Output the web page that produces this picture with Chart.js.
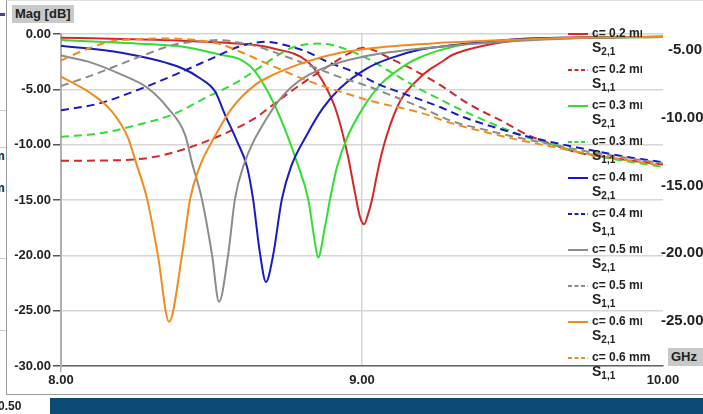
<!DOCTYPE html>
<html>
<head>
<meta charset="utf-8">
<script src="https://cdn.jsdelivr.net/npm/chart.js@4/dist/chart.umd.min.js"></script>
<style>
  body { margin: 0; width: 703px; height: 414px; overflow: hidden; position: relative; background: #fff;
         font-family: 'Liberation Sans', Arial, sans-serif; color: #222; }
  #frame { position: absolute; left: 6px; top: 0; width: 697px; height: 395px;
           border-left: 1px solid #9a9a9a; border-bottom: 1px solid #9a9a9a; border-top: 1px solid #e0e0e0; box-sizing: border-box; }
  #chart { position: absolute; left: 0; top: 0; }
  .tag { position: absolute; background: #c9c9c9; font-weight: bold; font-size: 13px; line-height: 18px; padding: 0 3px; }
  .side { position: absolute; font-weight: bold; font-size: 15px; line-height: 16px; white-space: nowrap; }
  .frag { position: absolute; font-weight: bold; font-size: 12px; line-height: 12px; }
  #legend { position: absolute; left: 568px; top: 26px; font-weight: bold; font-size: 12px; }
  #legend .item { height: 36px; }
  #legend .row1 { height: 14px; line-height: 14px; display: flex; align-items: center; white-space: nowrap; }
  #legend .row1 span { display: inline-block; max-width: 50px; overflow: hidden; }
  #legend .item:last-child .row1 span { max-width: none; }
  #legend svg { margin-right: 4px; }
  #legend .row2 { margin-left: 24px; font-size: 14px; line-height: 14px; }
  #legend sub { font-size: 10px; vertical-align: -3px; }
  #bar { position: absolute; left: 50px; top: 398px; width: 653px; height: 16px; background: #0c4a74; }
  #left050 { position: absolute; left: -2px; top: 399px; font-weight: bold; font-size: 12px; }
</style>
</head>
<body>
<div id="frame"></div>
<div style="position:absolute; left:0; top:13px; width:5px; height:3px; background:#4b3f8f;"></div>
<div style="position:absolute; left:0; top:110px; width:6px; height:1px; background:#ccc;"></div>
<div style="position:absolute; left:0; top:147px; width:6px; height:1px; background:#ccc;"></div>
<div style="position:absolute; left:0; top:258px; width:6px; height:1px; background:#ccc;"></div>
<div style="position:absolute; left:0; top:330px; width:6px; height:1px; background:#ccc;"></div>
<div class="frag" style="left:-6px; top:150px;">m</div>
<div class="frag" style="left:-6px; top:182px;">m</div>
<canvas id="chart" width="703" height="414"></canvas>
<div class="tag" style="left:12px; top:5px;">Mag [dB]</div>
<div class="tag" style="left:668px; top:348px; padding-right:8px;">GHz</div>
<div class="side" style="left:668px; top:41px;">-5.00</div>
<div class="side" style="left:661px; top:109px;">-10.00</div>
<div class="side" style="left:661px; top:177px;">-15.00</div>
<div class="side" style="left:661px; top:244px;">-20.00</div>
<div class="side" style="left:661px; top:312px;">-25.00</div>
<div id="legend"></div>
<div id="left050">0.50</div>
<div id="bar"></div>
<script>
// slot thickness c (mm) and the two S-parameters
const thickness = ['0.2', '0.3', '0.4', '0.5', '0.6'];
const colors = ['#d42828', '#33dd33', '#1a1ac4', '#8c8c8c', '#f08c1e'];

// S2,1 per thickness (GHz, dB)
const freqS21_02 = [8.00, 8.20, 8.40, 8.55, 8.645, 8.70, 8.82, 8.87, 8.915, 8.953, 8.977, 8.993, 9.007, 9.02, 9.033, 9.05, 9.06, 9.083, 9.126, 9.19, 9.225, 9.26, 9.30, 9.415, 9.525, 9.69, 10.0];
const magS21_02 = [-0.33, -0.45, -0.6, -0.8, -1.0, -1.27, -2.5, -4.3, -7.0, -11.0, -14.4, -16.5, -17.2, -16.3, -15.0, -12.7, -11.4, -9.1, -6.1, -4.0, -3.2, -2.6, -1.9, -1.0, -0.54, -0.33, -0.25];
const freqS21_03 = [8.00, 8.20, 8.40, 8.535, 8.595, 8.645, 8.704, 8.751, 8.784, 8.821, 8.844, 8.854, 8.877, 8.894, 8.917, 8.950, 9.003, 9.060, 9.150, 9.193, 9.249, 9.359, 9.525, 9.69, 10.0];
const magS21_03 = [-0.54, -0.8, -1.14, -1.9, -2.3, -3.4, -6.1, -9.1, -11.6, -14.9, -18.9, -20.2, -17.4, -14.9, -12.0, -9.4, -6.7, -4.6, -2.7, -2.1, -1.55, -0.83, -0.54, -0.38, -0.27];
const freqS21_04 = [8.00, 8.20, 8.40, 8.462, 8.512, 8.545, 8.585, 8.618, 8.638, 8.661, 8.681, 8.704, 8.734, 8.764, 8.817, 8.870, 8.927, 9.017, 9.093, 9.193, 9.259, 9.525, 9.69, 10.0];
const magS21_04 = [-1.05, -1.7, -3.07, -4.0, -5.2, -7.3, -9.7, -12.0, -14.9, -19.8, -22.4, -20.1, -14.9, -12.0, -9.1, -6.7, -4.9, -3.1, -2.2, -1.4, -1.15, -0.45, -0.33, -0.25];
const freqS21_05 = [8.00, 8.09, 8.203, 8.289, 8.355, 8.412, 8.435, 8.468, 8.502, 8.525, 8.555, 8.578, 8.605, 8.684, 8.761, 8.870, 9.003, 9.259, 9.525, 9.69, 10.0];
const magS21_05 = [-1.95, -2.5, -3.7, -4.9, -6.7, -9.1, -11.6, -14.9, -20.0, -24.2, -20.0, -14.9, -12.0, -7.6, -4.9, -3.1, -2.05, -1.15, -0.6, -0.4, -0.27];
const freqS21_06 = [8.00, 8.09, 8.169, 8.223, 8.249, 8.286, 8.322, 8.359, 8.402, 8.429, 8.462, 8.502, 8.568, 8.645, 8.704, 8.817, 8.927, 9.037, 9.259, 9.525, 9.69, 10.0];
const magS21_06 = [-3.85, -5.2, -7.0, -9.4, -11.6, -14.9, -20.0, -26.0, -20.0, -14.9, -11.9, -9.7, -6.7, -4.6, -3.7, -2.5, -1.7, -1.26, -0.8, -0.5, -0.35, -0.25];

// S1,1 per thickness (GHz, dB)
const freqS11_02 = [8.00, 8.203, 8.312, 8.422, 8.535, 8.645, 8.704, 8.794, 8.894, 8.960, 9.003, 9.043, 9.093, 9.169, 9.259, 9.359, 9.468, 9.548, 9.635, 9.714, 9.857, 10.0];
const magS11_02 = [-11.45, -11.4, -11.1, -10.3, -9.1, -7.6, -6.4, -4.6, -2.8, -1.7, -1.25, -1.5, -2.2, -3.2, -4.6, -6.4, -7.9, -9.1, -10.0, -10.7, -11.3, -11.8];
const freqS11_03 = [8.00, 8.146, 8.256, 8.369, 8.478, 8.588, 8.645, 8.704, 8.761, 8.811, 8.867, 8.927, 9.017, 9.093, 9.193, 9.259, 9.302, 9.415, 9.525, 9.635, 9.724, 9.857, 10.0];
const magS11_03 = [-9.3, -8.9, -8.2, -7.3, -5.8, -4.3, -3.3, -2.2, -1.3, -0.95, -0.85, -1.2, -2.2, -3.4, -5.0, -5.9, -6.5, -7.9, -9.1, -10.0, -10.7, -11.4, -12.0];
const freqS11_04 = [8.00, 8.123, 8.279, 8.402, 8.502, 8.595, 8.645, 8.681, 8.744, 8.817, 8.884, 8.970, 9.060, 9.150, 9.259, 9.336, 9.449, 9.525, 9.635, 9.724, 9.857, 10.0];
const magS11_04 = [-6.9, -6.3, -4.8, -3.4, -2.2, -1.1, -0.8, -0.7, -1.0, -1.6, -2.5, -3.4, -4.6, -5.5, -6.6, -7.5, -8.5, -9.1, -9.8, -10.3, -11.0, -11.6];
const freqS11_05 = [8.00, 8.086, 8.163, 8.262, 8.372, 8.462, 8.528, 8.595, 8.661, 8.744, 8.850, 8.927, 9.017, 9.093, 9.193, 9.302, 9.415, 9.525, 9.635, 9.724, 9.857, 10.0];
const magS11_05 = [-4.7, -3.9, -3.1, -2.05, -1.0, -0.65, -0.55, -0.8, -1.2, -2.0, -3.1, -3.9, -4.7, -5.5, -6.6, -7.9, -8.7, -9.4, -10.0, -10.5, -11.1, -11.7];
const freqS11_06 = [8.00, 8.073, 8.163, 8.262, 8.362, 8.462, 8.528, 8.595, 8.704, 8.817, 8.927, 9.037, 9.193, 9.302, 9.415, 9.525, 9.635, 9.724, 9.857, 10.0];
const magS11_06 = [-2.4, -1.5, -0.7, -0.45, -0.4, -0.6, -0.9, -1.6, -2.9, -4.2, -5.2, -6.1, -7.1, -8.1, -8.9, -9.6, -10.2, -10.7, -11.3, -11.9];

const yTicks = [0, -5, -10, -15, -20, -25, -30];
const xTicks = [8, 9, 10];

const s21 = [[freqS21_02, magS21_02], [freqS21_03, magS21_03], [freqS21_04, magS21_04], [freqS21_05, magS21_05], [freqS21_06, magS21_06]];
const s11 = [[freqS11_02, magS11_02], [freqS11_03, magS11_03], [freqS11_04, magS11_04], [freqS11_05, magS11_05], [freqS11_06, magS11_06]];

const zip = (f, m) => f.map((x, i) => ({ x: x, y: m[i] }));

const datasets = [];
thickness.forEach((c, i) => {
    datasets.push({ label: 'c= ' + c + ' mm', param: '2,1', data: zip(s21[i][0], s21[i][1]),
        borderColor: colors[i], borderDash: [] });
    datasets.push({ label: 'c= ' + c + ' mm', param: '1,1', data: zip(s11[i][0], s11[i][1]),
        borderColor: colors[i], borderDash: [8, 5] });
});
datasets.forEach((d, i) => {
    d.borderWidth = 2;
    d.pointRadius = 0;
    d.fill = false;
    d.cubicInterpolationMode = 'monotone';
    d.order = datasets.length - i;
});

const htmlLegend = {
    id: 'htmlLegend',
    afterUpdate(chart) {
        const box = document.getElementById('legend');
        box.innerHTML = '';
        chart.data.datasets.forEach(ds => {
            const dash = ds.borderDash.length ? '4 2.5' : 'none';
            const item = document.createElement('div');
            item.className = 'item';
            item.innerHTML = '<div class="row1"><svg width="20" height="6"><line x1="0" y1="4" x2="20" y2="4" stroke="' +
                ds.borderColor + '" stroke-width="2" stroke-dasharray="' + dash + '"/></svg><span>' + ds.label +
                '</span></div><div class="row2">S<sub>' + ds.param + '</sub></div>';
            box.appendChild(item);
        });
    }
};

const tickFont = { family: "'Liberation Sans', Arial, sans-serif", size: 13, weight: 'bold' };

const config = {
    type: 'line',
    data: { datasets: datasets },
    options: {
        responsive: false,
        animation: false,
        devicePixelRatio: 1,
        layout: { padding: { left: 0, top: 34, right: 40, bottom: 0 } },
        plugins: { legend: { display: false }, tooltip: { enabled: false } },
        scales: {
            x: {
                type: 'linear',
                min: 8,
                max: 10,
                afterBuildTicks: s => { s.ticks = xTicks.map(v => ({ value: v })); },
                afterFit: s => { s.height = 48; },
                ticks: { callback: v => v.toFixed(2), font: tickFont, color: '#222', padding: 1, maxRotation: 0 },
                grid: {
                    color: ctx => (ctx.tick && ctx.tick.value === 9) ? '#d6d6d6' : 'rgba(0,0,0,0)',
                    tickColor: ctx => (ctx.tick && ctx.tick.value === 8) ? '#a8a8a8' : 'rgba(0,0,0,0)',
                    tickLength: 6,
                    lineWidth: 1.5
                },
                border: { color: '#666', width: 1.5 }
            },
            y: {
                min: -30,
                max: 0,
                afterBuildTicks: s => { s.ticks = yTicks.map(v => ({ value: v })); },
                afterFit: s => { s.width = 61; },
                ticks: { callback: v => v.toFixed(2), font: tickFont, color: '#222', padding: 2 },
                grid: { color: '#d6d6d6', lineWidth: 1.5, tickColor: '#555', tickLength: 8 },
                border: { color: '#b0b0b0', width: 2 }
            }
        }
    },
    plugins: [htmlLegend]
};

const chart = new Chart(document.getElementById('chart'), config);
</script>
</body>
</html>
